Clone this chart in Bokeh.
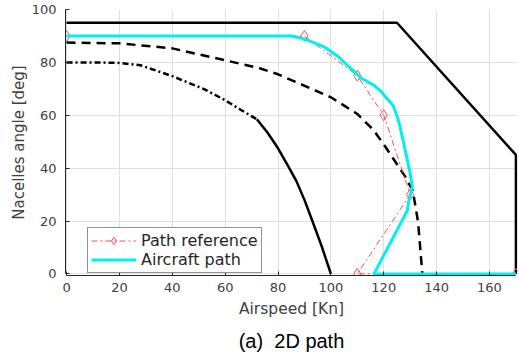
from bokeh.plotting import figure
from bokeh.models import FixedTicker, Legend, LegendItem, Title, Range1d
from bokeh.embed import file_html
from bokeh.resources import INLINE

# Flight envelope boundary (solid black)
envelope_x = [0, 125, 170, 170]
envelope_y = [95, 95, 45, 0]

# Lower conversion corridor limit, dash-dot part then solid part
lower_dd_x = [0, 10, 20, 28, 40, 52, 60, 66, 72]
lower_dd_y = [80, 80, 79.8, 78.9, 74.8, 69.9, 65.7, 62, 58.5]
lower_solid_x = [72, 76, 80, 84, 87, 90, 93, 96.5, 100]
lower_solid_y = [58.5, 53.5, 47.5, 40.5, 35, 28, 20, 10.5, 0]

# Intermediate limit (dashed black)
mid_x = [0, 20, 40, 60, 73, 80, 92, 100, 110, 116, 120, 124, 128, 131, 133, 134.6]
mid_y = [87.5, 87.2, 85.3, 80.8, 77.8, 75.5, 70.3, 66.8, 60.5, 54.5, 49, 43, 37, 31.5, 19.5, 0]

# Path reference waypoints
ref_x = [0, 90, 110, 120, 130, 110, 170]
ref_y = [90, 90, 75, 60, 30, 0, 0]

# Flown aircraft path
path_x = [0, 85, 90, 97.4, 103, 107.5, 111.5, 116, 119, 121, 123.5, 125.3, 126.3,
          127.2, 128.5, 130, 130.8, 129.5, 128.9, 116.3, 170]
path_y = [90, 90, 88.9, 85.9, 82, 77.7, 74, 71.5, 69, 66.5, 63.8, 59, 55,
          51, 45, 38, 33, 27.7, 23.9, 0, 0]

x_ticks = [0, 20, 40, 60, 80, 100, 120, 140, 160]
y_ticks = [0, 20, 40, 60, 80, 100]

FONT = "DejaVu Sans"
TXT = "#404040"

p = figure(width=519, height=360, output_backend="svg", toolbar_location=None,
           x_range=Range1d(-0.4, 170.6), y_range=Range1d(-0.6, 100),
           min_border_left=65, min_border_right=2, min_border_top=9,
           min_border_bottom=85)
p.outline_line_color = None
p.background_fill_color = "white"
p.border_fill_color = "white"

# axes
for ax, ticks, bounds in ((p.xaxis[0], x_ticks, (0, 170)), (p.yaxis[0], y_ticks, (0, 100))):
    ax.ticker = FixedTicker(ticks=ticks)
    ax.bounds = bounds
    ax.axis_line_color = "#262626"
    ax.axis_line_width = 1
    ax.major_tick_in = 4
    ax.major_tick_out = 0
    ax.major_tick_line_color = "#262626"
    ax.minor_tick_line_color = None
    ax.major_label_text_font = FONT
    ax.major_label_text_font_size = "13px"
    ax.major_label_text_color = TXT
    ax.axis_label_text_font = FONT
    ax.axis_label_text_font_style = "normal"
    ax.axis_label_text_color = TXT

p.xaxis.axis_label = "Airspeed [Kn]"
p.yaxis.axis_label = "Nacelles angle [deg]"
p.xaxis.axis_label_text_font_size = "15.5px"
p.yaxis.axis_label_text_font_size = "15px"
p.xaxis.major_label_standoff = 7
p.yaxis.major_label_standoff = 9
p.xaxis.axis_label_standoff = 5
p.yaxis.axis_label_standoff = 1

p.xgrid.ticker = FixedTicker(ticks=x_ticks)
p.ygrid.ticker = FixedTicker(ticks=y_ticks)
p.grid.grid_line_color = "#e0e0e0"
p.grid.grid_line_width = 1

# corridor limits
p.line(envelope_x, envelope_y, line_color="black", line_width=2.5)
p.line(lower_dd_x, lower_dd_y, line_color="black", line_width=2.5, line_dash="6 3 2 3")
p.line(lower_solid_x, lower_solid_y, line_color="black", line_width=2.5)
p.line(mid_x, mid_y, line_color="black", line_width=2.5, line_dash="9 6")

# reference path and flown path
RED = "#ff4d4d"
r_line = p.line(ref_x, ref_y, line_color=RED, line_width=1, line_dash="6 3 2 3")
r_mark = p.scatter(ref_x, ref_y, marker="diamond", size=11, fill_color=None,
                   line_color=RED, line_width=1)
c_line = p.line(path_x, path_y, line_color="#00f0f0", line_width=3)

legend = Legend(items=[LegendItem(label="Path reference", renderers=[r_line, r_mark]),
                       LegendItem(label="Aircraft path", renderers=[c_line])],
                location=(22, 2), margin=0, padding=3, spacing=0,
                glyph_width=45, glyph_height=19, label_height=19, label_standoff=5,
                label_text_font=FONT, label_text_font_size="16px",
                label_text_color="#262626", border_line_color="#262626",
                border_line_width=1, background_fill_color="white",
                background_fill_alpha=1)
p.add_layout(legend, "center")

caption = Title(text="(a)\u00a0\u00a02D path", align="center", offset=-11,
                text_font="Liberation Sans", text_font_size="20px",
                text_font_style="normal", text_color="black", standoff=14)
p.add_layout(caption, "below")

open("out.html", "w").write(file_html(p, INLINE))
